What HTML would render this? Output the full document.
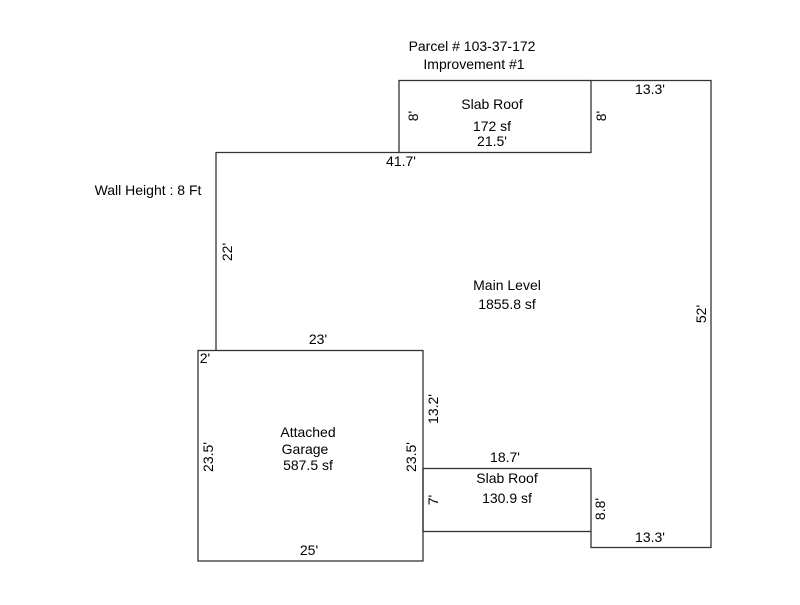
<!DOCTYPE html>
<html><head><style>body{margin:0;background:#fff}</style></head><body>
<svg width="800" height="600" xmlns="http://www.w3.org/2000/svg" font-family="Liberation Sans, sans-serif" font-size="14" fill="#000">
<g stroke="#333" stroke-width="1.3" fill="none">
<polyline points="216,350 216,152.5 399,152.5"/>
<rect x="399" y="80.5" width="192" height="72"/>
<polyline points="591,80.5 711,80.5 711,547.5 591,547.5 591,531.5"/>
<rect x="423" y="468.5" width="168" height="63"/>
<rect x="198" y="350.5" width="225" height="210.5"/>
</g>
<g text-anchor="middle">
<text x="472" y="51">Parcel # 103-37-172</text>
<text x="474" y="69">Improvement #1</text>
<text x="492" y="109">Slab Roof</text>
<text x="492" y="131">172 sf</text>
<text x="492" y="146">21.5'</text>
<text x="650" y="94">13.3'</text>
<text x="401" y="166">41.7'</text>
<text x="148" y="195">Wall Height : 8 Ft</text>
<text x="507" y="290">Main Level</text>
<text x="507" y="309">1855.8 sf</text>
<text x="318" y="344">23'</text>
<text x="205" y="363">2'</text>
<text x="308" y="437">Attached</text>
<text x="305" y="454">Garage</text>
<text x="308" y="470">587.5 sf</text>
<text x="505" y="462">18.7'</text>
<text x="507" y="483">Slab Roof</text>
<text x="507" y="503">130.9 sf</text>
<text x="650" y="542">13.3'</text>
<text x="309" y="555">25'</text>
<text transform="translate(418,116) rotate(-90)">8'</text>
<text transform="translate(606,116) rotate(-90)">8'</text>
<text transform="translate(232,252) rotate(-90)">22'</text>
<text transform="translate(706,314) rotate(-90)">52'</text>
<text transform="translate(438,409) rotate(-90)">13.2'</text>
<text transform="translate(213,457) rotate(-90)">23.5'</text>
<text transform="translate(416,457) rotate(-90)">23.5'</text>
<text transform="translate(438,500) rotate(-90)">7'</text>
<text transform="translate(605,509) rotate(-90)">8.8'</text>
</g>
</svg>
</body></html>
